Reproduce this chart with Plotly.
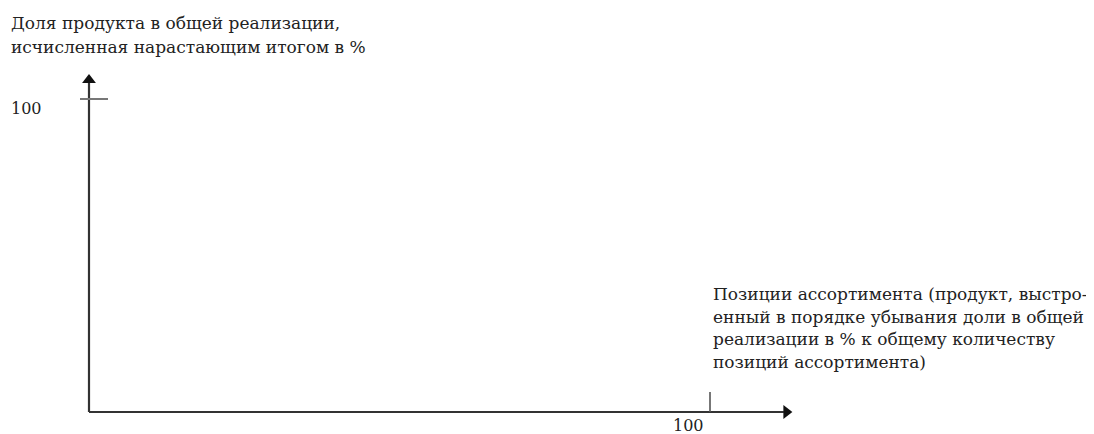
import plotly.graph_objects as go

# ---- data ----
y_title_lines = ["Доля продукта в общей реализации,",
                 "исчисленная нарастающим итогом в %"]
x_title_lines = ["Позиции ассортимента (продукт, выстро-",
                 "енный в порядке убывания доли в общей",
                 "реализации в % к общему количеству",
                 "позиций ассортимента)"]
x_tick_values = [100]
y_tick_values = [100]
tick_labels = ["100"]
x_axis_end = 113.4
y_axis_end = 108.3

OFF = 8  # page body margin
W, H = 1094 - OFF, 434 - OFF
FONT = "DejaVu Serif"
FS = 17
TXT = "#222222"
LINE = "#333333"

# pixel <-> data mapping (plot area = whole figure)
px_per_x = 6.21
px_per_y = 3.13
x0_px, y0_px = 89 - OFF, 412 - OFF
xr = [-x0_px / px_per_x, (W - x0_px) / px_per_x]
yr = [-(H - y0_px) / px_per_y, y0_px / px_per_y]


def px(xp):
    return (xp - OFF) / W


def py(yp):
    return 1 - (yp - OFF) / H


fig = go.Figure()

# y axis line
fig.add_trace(go.Scatter(x=[0, 0], y=[0, y_axis_end - 3], mode="lines",
                         line=dict(color=LINE, width=2.2), hoverinfo="skip"))
# x axis line
fig.add_trace(go.Scatter(x=[0, x_axis_end - 1.5], y=[0, 0], mode="lines",
                         line=dict(color=LINE, width=2.2), hoverinfo="skip"))
# arrowheads
fig.add_trace(go.Scatter(x=[0], y=[y_axis_end - 2.2], mode="markers",
                         marker=dict(symbol="triangle-up", size=12, color="#111"),
                         hoverinfo="skip"))
fig.add_trace(go.Scatter(x=[x_axis_end - 1.1], y=[0], mode="markers",
                         marker=dict(symbol="triangle-right", size=12, color="#111"),
                         hoverinfo="skip"))
# ticks
for yv in y_tick_values:
    fig.add_trace(go.Scatter(x=[-1.45, 3.06], y=[yv, yv], mode="lines",
                             line=dict(color="#777", width=2), hoverinfo="skip"))
for xv in x_tick_values:
    fig.add_trace(go.Scatter(x=[xv, xv], y=[0, 6.4], mode="lines",
                             line=dict(color="#555", width=1.6), hoverinfo="skip"))

ann = []
# tick labels
ann.append(dict(x=px(9), y=py(109), xref="paper", yref="paper",
                text=tick_labels[0], showarrow=False, xanchor="left", yanchor="middle",
                font=dict(family=FONT, size=16, color=TXT)))
ann.append(dict(x=px(688), y=py(425), xref="paper", yref="paper",
                text=tick_labels[0], showarrow=False, xanchor="center", yanchor="middle",
                font=dict(family=FONT, size=16, color=TXT)))
# y title
for i, t in enumerate(y_title_lines):
    ann.append(dict(x=px(9), y=py(23 + 24 * i), xref="paper", yref="paper",
                    text=t, showarrow=False, xanchor="left", yanchor="middle",
                    font=dict(family=FONT, size=FS, color=TXT)))
# x title
for i, t in enumerate(x_title_lines):
    ann.append(dict(x=px(711), y=py(294 + 22.7 * i), xref="paper", yref="paper",
                    text=t, showarrow=False, xanchor="left", yanchor="middle",
                    font=dict(family=FONT, size=FS, color=TXT)))

fig.update_layout(
    width=W, height=H,
    margin=dict(l=0, r=0, t=0, b=0),
    paper_bgcolor="white", plot_bgcolor="white",
    showlegend=False,
    xaxis=dict(range=xr, visible=False, fixedrange=True),
    yaxis=dict(range=yr, visible=False, fixedrange=True),
    annotations=ann,
)

fig.write_html("out.html")
